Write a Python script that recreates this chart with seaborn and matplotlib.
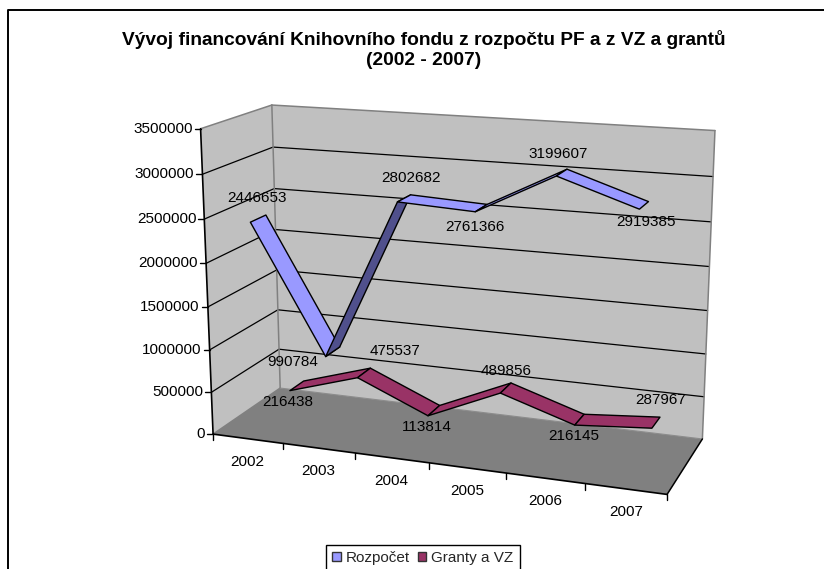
import numpy as np
import pandas as pd
import matplotlib
matplotlib.use('Agg')
import matplotlib.pyplot as plt
from matplotlib.patches import Patch
import seaborn as sns

years = ['2002', '2003', '2004', '2005', '2006', '2007']
rozpocet = [2446653, 990784, 2802682, 2761366, 3199607, 2919385]
granty = [216438, 475537, 113814, 489856, 216145, 287967]
value_ticks = [0, 500000, 1000000, 1500000, 2000000, 2500000, 3000000, 3500000]
title = 'Vývoj financování Knihovního fondu z rozpočtu PF a z VZ a grantů\n(2002 - 2007)'

sns.set_theme(style='white')
plt.rcParams['font.family'] = ['Liberation Sans', 'DejaVu Sans']

fig = plt.figure(figsize=(8.24, 5.69), dpi=100)
ax = fig.add_axes([0, 0, 1, 1])
ax.set_xlim(0, 824)
ax.set_ylim(569, 0)
ax.axis('off')

# camera of the 3d box, fitted on the corners of the box in the picture
# world = category position, value, depth (0 front, 1 back)
top = value_ticks[-1]
n = len(years)
world = [(0, 0, 0), (n, 0, 0), (n, 0, 1), (0, 0, 1), (0, top, 0), (0, top, 1), (n, top, 1)]
pixels = [(213.3, 434), (666.7, 495), (702.7, 438.3), (280, 388.3),
          (200.7, 128.3), (271.7, 105.3), (715, 130.7)]
rows = []
for (wx, wy, wz), (px, py) in zip(world, pixels):
    w = [wx, wy / 1e6, wz, 1]
    rows.append(w + [0, 0, 0, 0] + [-px * a for a in w])
    rows.append([0, 0, 0, 0] + w + [-py * a for a in w])
cam = np.linalg.svd(np.array(rows))[2][-1].reshape(3, 4)


def project(x, value, z):
    p = cam @ np.array([x, value / 1e6, z, 1.0])
    return p[0] / p[2], p[1] / p[2]


def wall(points, color, zorder=1):
    ax.fill(*zip(*[project(*p) for p in points]), facecolor=color, edgecolor='none', zorder=zorder)


def edge(p1, p2, color, lw=1.1, zorder=2):
    a, b = project(*p1), project(*p2)
    ax.plot([a[0], b[0]], [a[1], b[1]], color=color, lw=lw, zorder=zorder, solid_capstyle='round')


# walls and floor
wall([(0, 0, 0), (0, top, 0), (0, top, 1), (0, 0, 1)], '#C0C0C0')
wall([(0, 0, 1), (0, top, 1), (n, top, 1), (n, 0, 1)], '#C0C0C0')
wall([(0, 0, 0), (n, 0, 0), (n, 0, 1), (0, 0, 1)], '#808080')

# gridlines
grid = []
for k, v in enumerate(value_ticks[1:-1]):
    for x, y, z in [(0, v, 0), (0, v, 1), (n, v, 1)]:
        px, py = project(x, y, z)
        grid.append({'px': px, 'py': py, 'line': k})
sns.lineplot(data=pd.DataFrame(grid), x='px', y='py', units='line', estimator=None, sort=False,
             color='black', lw=0.9, legend=False, ax=ax, zorder=2)
ax.set_xlabel('')
ax.set_ylabel('')

# box edges
edge((0, top, 0), (0, top, 1), '#808080')
edge((0, top, 1), (n, top, 1), '#808080')
edge((0, 0, 1), (0, top, 1), '#808080')
edge((n, 0, 1), (n, top, 1), '#808080')
edge((0, 0, 0), (0, 0, 1), '#808080')
edge((0, 0, 1), (n, 0, 1), '#8c8c8c', lw=0.8)
edge((n, 0, 0), (n, 0, 1), 'black')
edge((0, 0, 0), (n, 0, 0), 'black', lw=1.2, zorder=3)
edge((0, 0, 0), (0, top, 0), 'black', lw=1.2, zorder=3)

# value axis
for v in value_ticks:
    px, py = project(0, v, 0)
    ax.plot([px - 6, px], [py, py], color='black', lw=1.0, zorder=3)
    ax.text(px - 8, py, str(v), ha='right', va='center', fontsize=11, color='black')

# category axis
for i in range(n + 1):
    px, py = project(i, 0, 0)
    ax.plot([px, px], [py, py + 6], color='black', lw=1.0, zorder=3)
for i, year in enumerate(years):
    px, py = project(i + 0.5, 0, 0)
    ax.text(px, py + 23, year, ha='center', va='center', fontsize=11, color='black')


# ribbons, back series first
def ribbon(values, z0, z1, light, dark, zorder):
    for i in range(len(values) - 1):
        quad = [project(i + 0.5, values[i], z0), project(i + 1.5, values[i + 1], z0),
                project(i + 1.5, values[i + 1], z1), project(i + 0.5, values[i], z1)]
        xs, ys = zip(*quad)
        area = sum(xs[k] * ys[(k + 1) % 4] - xs[(k + 1) % 4] * ys[k] for k in range(4))
        ax.fill(xs, ys, facecolor=light if area < 0 else dark, edgecolor='black', lw=1.0,
                joinstyle='round', zorder=zorder + i * 0.01)


ribbon(granty, 0.64, 0.86, '#993366', '#4D1A33', 5)
ribbon(rozpocet, 0.14, 0.36, '#9999FF', '#50508C', 6)

# data labels
rozpocet_off = [(-1, -21), (-40, 10), (7, -20), (-6, 19), (-4, -19), (2, 17)]
granty_off = [(-9, 16), (31, -22), (-7, 16), (0, -17), (-6, 16), (5, -23)]
for values, off, z in [(rozpocet, rozpocet_off, 0.25), (granty, granty_off, 0.75)]:
    for i, v in enumerate(values):
        px, py = project(i + 0.5, v, z)
        ax.text(px + off[i][0], py + off[i][1], str(v), ha='center', va='center',
                fontsize=11, color='black', zorder=8)

# title and chart frame
ax.text(424, 49.5, title, ha='center', va='center', fontsize=13.75, fontweight='bold',
        color='black', linespacing=1.27)
ax.plot([8, 8, 830], [575, 10, 10], color='black', lw=1.4, zorder=9)

handles = [Patch(facecolor='#9999FF', edgecolor='#333333', label='Rozpočet'),
           Patch(facecolor='#993366', edgecolor='#333333', label='Granty a VZ')]
leg = ax.legend(handles=handles, ncol=2, loc='upper left', bbox_to_anchor=(325.7, 544.7),
                bbox_transform=ax.transData, frameon=True, fancybox=False, edgecolor='black',
                framealpha=1, fontsize=11, handlelength=0.55, handleheight=0.55, handletextpad=0.35,
                columnspacing=0.5, borderpad=0.42, borderaxespad=0)
leg.get_frame().set_linewidth(1.0)

fig.savefig('out.png', dpi=100)
